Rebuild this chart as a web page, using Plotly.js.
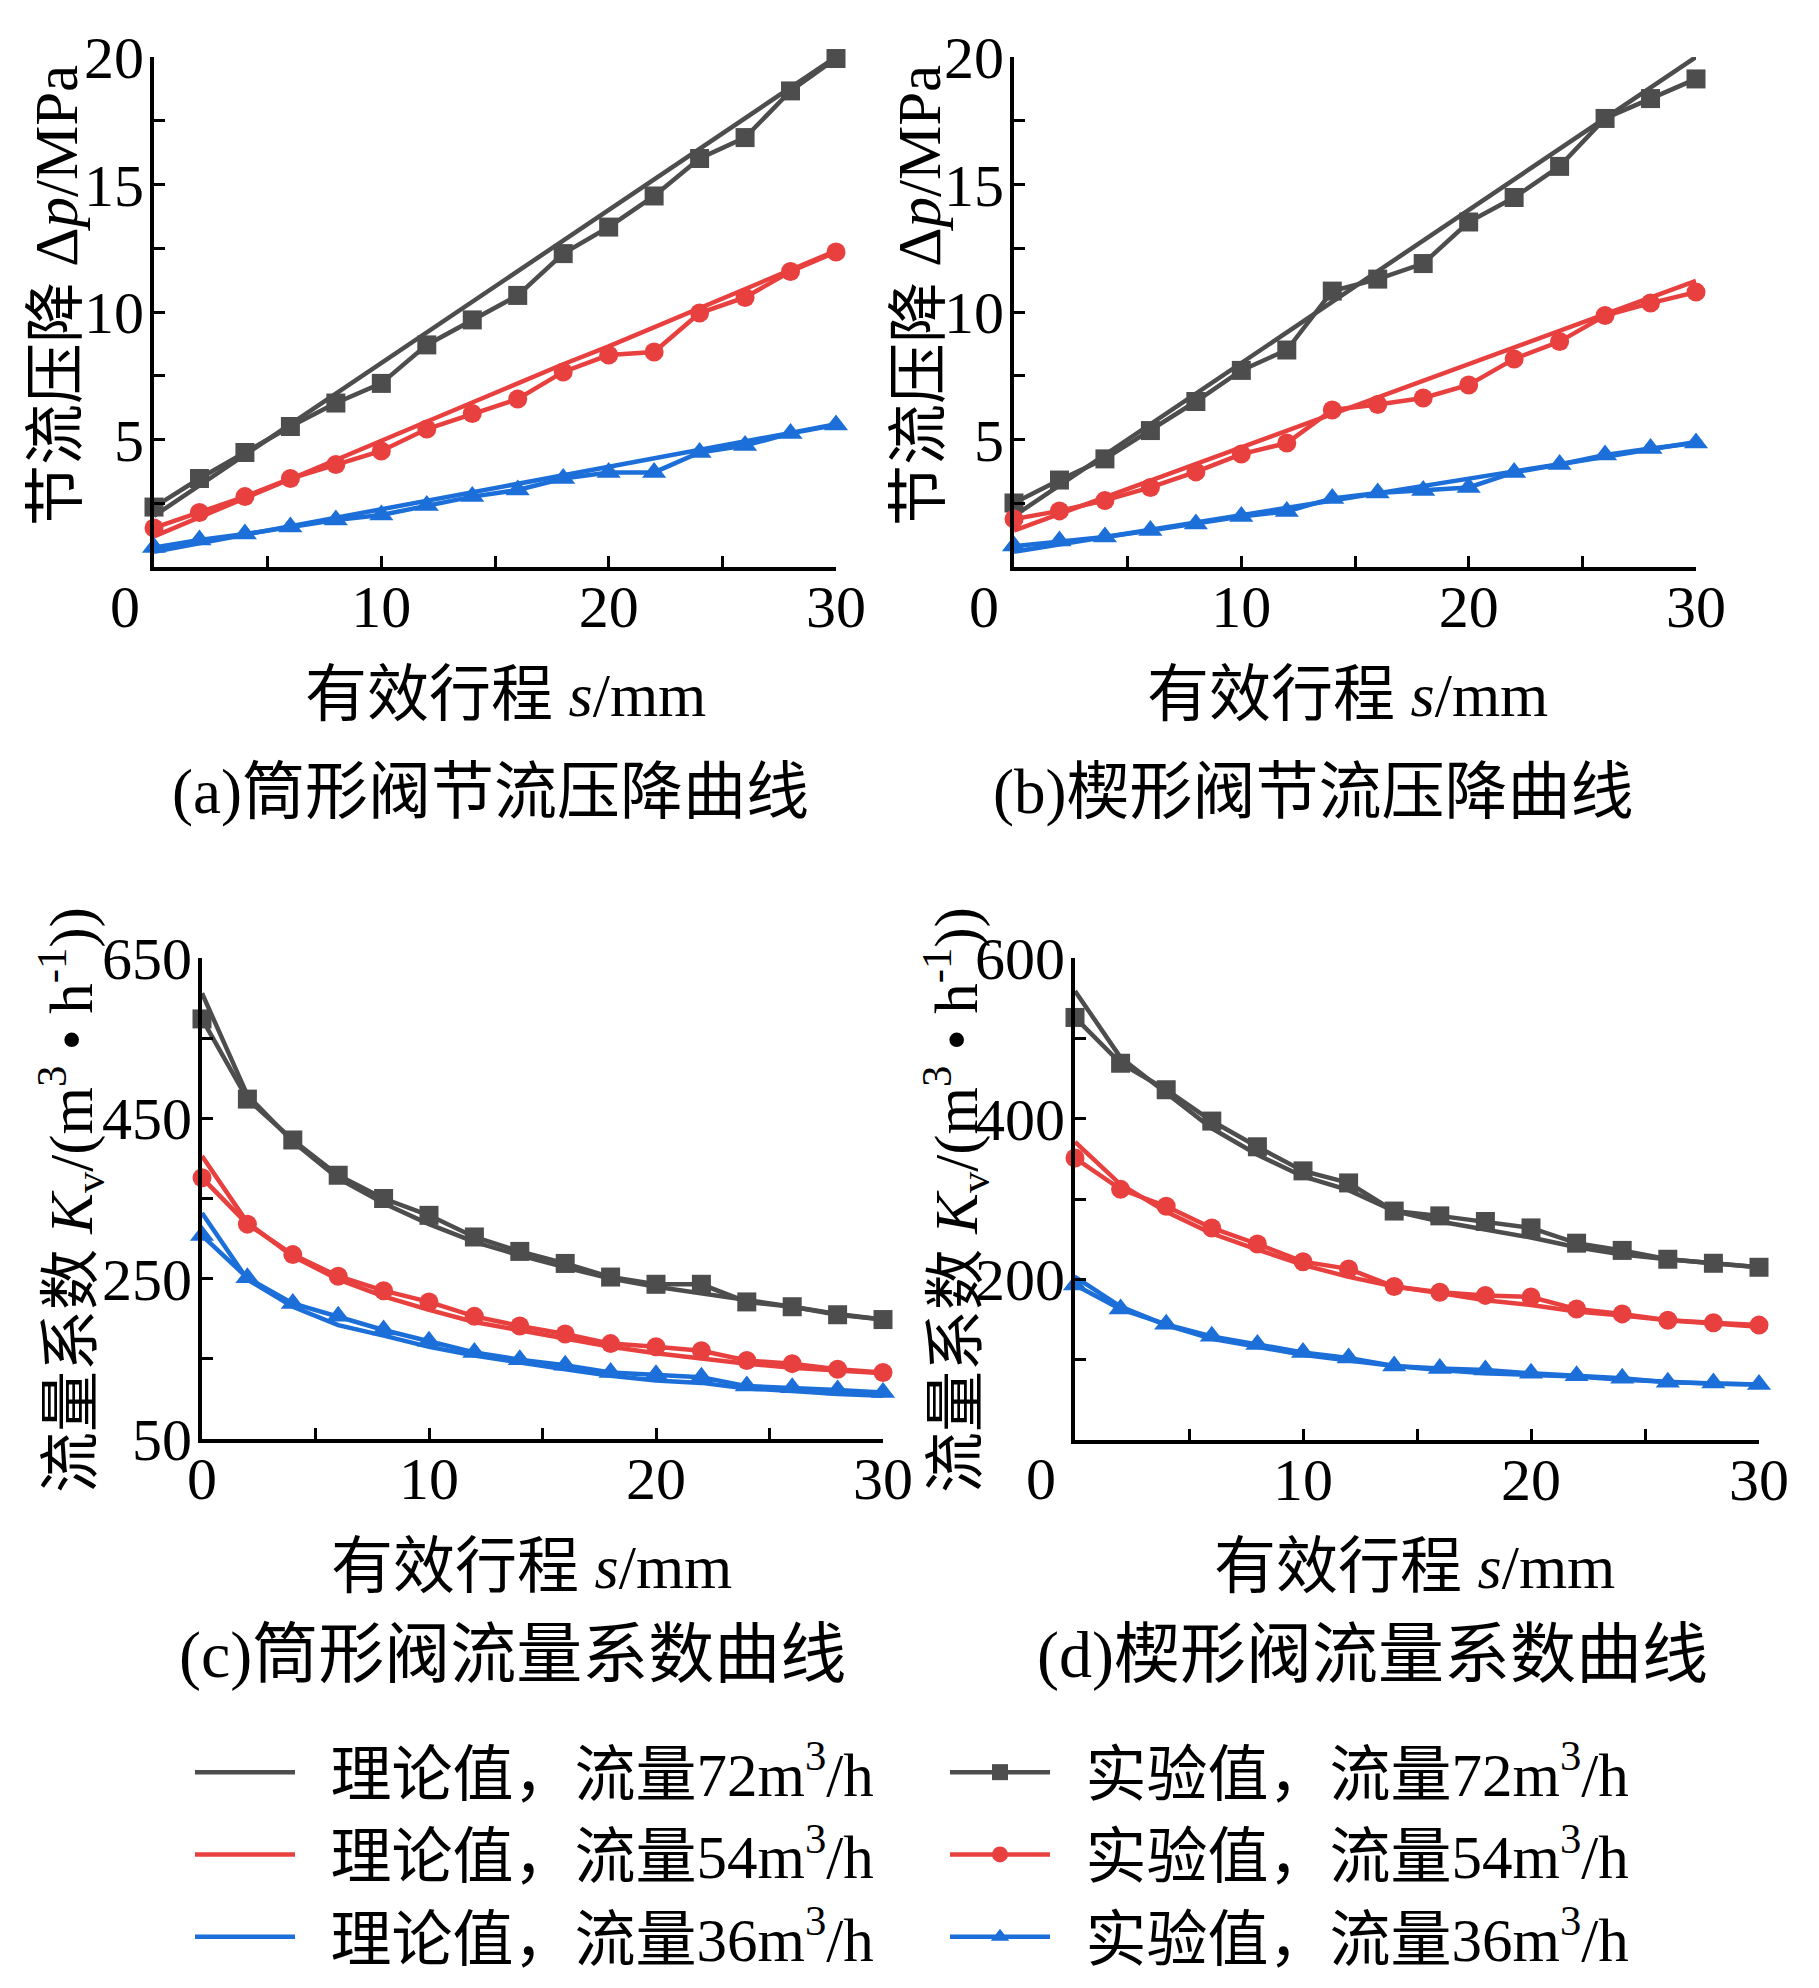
<!DOCTYPE html>
<html>
<head>
<meta charset="utf-8">
<script src="https://cdn.plot.ly/plotly-3.0.1.min.js"></script>
<style>
  html, body { margin: 0; padding: 0; background: #fff; }
  #chart { width: 1819px; height: 1988px; }
</style>
</head>
<body>
<div id="chart"></div>
<script>
// stroke positions (mm)
var stroke = [0, 2, 4, 6, 8, 10, 12, 14, 16, 18, 20, 22, 24, 26, 28, 30];

// (a) cylinder valve pressure drop, MPa
var a_th72 = [2.0, 3.2, 4.4, 5.6, 6.8, 8.0, 9.2, 10.4, 11.6, 12.8, 14.0, 15.2, 16.4, 17.6, 18.8, 20.0];
var a_ex72 = [2.35, 3.47, 4.49, 5.51, 6.43, 7.2, 8.71, 9.69, 10.65, 12.29, 13.33, 14.55, 16.02, 16.84, 18.67, 19.94];
var a_th54 = [1.2, 1.95, 2.7, 3.45, 4.2, 4.95, 5.7, 6.45, 7.2, 7.95, 8.65, 9.4, 10.15, 10.9, 11.65, 12.4];
var a_ex54 = [1.53, 2.14, 2.76, 3.47, 4.02, 4.55, 5.41, 6.02, 6.59, 7.65, 8.31, 8.43, 9.96, 10.57, 11.59, 12.35];
var a_th36 = [0.6, 0.93, 1.26, 1.6, 1.93, 2.26, 2.6, 2.93, 3.26, 3.6, 3.93, 4.26, 4.6, 4.93, 5.26, 5.6];
var a_ex36 = [0.76, 1.06, 1.29, 1.57, 1.84, 2.04, 2.41, 2.76, 3.02, 3.47, 3.71, 3.71, 4.49, 4.76, 5.24, 5.57];

// (b) wedge valve pressure drop, MPa
var b_th72 = [2.0, 3.2, 4.4, 5.6, 6.8, 8.0, 9.2, 10.4, 11.6, 12.8, 14.0, 15.2, 16.4, 17.6, 18.8, 20.0];
var b_ex72 = [2.51, 3.41, 4.24, 5.35, 6.49, 7.71, 8.51, 10.82, 11.29, 11.9, 13.53, 14.49, 15.71, 17.59, 18.37, 19.14];
var b_th54 = [1.43, 2.08, 2.73, 3.39, 4.04, 4.69, 5.34, 5.99, 6.65, 7.3, 7.95, 8.6, 9.26, 9.91, 10.56, 11.22];
var b_ex54 = [1.88, 2.2, 2.61, 3.12, 3.73, 4.43, 4.86, 6.16, 6.37, 6.63, 7.14, 8.16, 8.84, 9.86, 10.35, 10.78];
var b_th36 = [0.6, 0.89, 1.17, 1.46, 1.74, 2.03, 2.32, 2.6, 2.89, 3.17, 3.46, 3.75, 4.03, 4.32, 4.6, 4.9];
var b_ex36 = [0.82, 1.02, 1.18, 1.43, 1.69, 1.98, 2.18, 2.69, 2.9, 3.0, 3.12, 3.71, 4.02, 4.39, 4.65, 4.86];

// (c) cylinder valve flow coefficient
var c_th72 = [606, 479, 421, 375, 344, 318, 296, 279, 264, 250, 240, 232, 224, 215, 206, 199];
var c_ex72 = [574, 474, 423, 379, 350, 329, 302, 284, 269, 252, 243, 243, 221, 215, 205, 199];
var c_th54 = [403, 320, 278, 249, 228, 211, 196, 186, 175, 165, 157, 150, 144, 139, 135, 132];
var c_ex54 = [376, 318, 280, 253, 235, 221, 203, 191, 181, 169, 165, 160, 148, 144, 137, 133];
var c_th36 = [332, 249, 215, 192, 179, 165, 154, 145, 137, 129, 123, 120, 113, 110, 106, 104];
var c_ex36 = [304, 251, 219, 203, 186, 172, 158, 149, 142, 133, 130, 127, 116, 114, 111, 108];

// (d) wedge valve flow coefficient
var d_th72 = [559, 476, 432, 388, 355, 328, 311, 285, 272, 262, 252, 240, 231, 225, 220, 215];
var d_ex72 = [526, 469, 436, 397, 365, 335, 320, 285, 279, 272, 264, 245, 236, 225, 220, 215];
var d_th54 = [371, 318, 284, 257, 237, 218, 203, 191, 183, 174, 168, 160, 155, 149, 145, 141];
var d_ex54 = [351, 312, 291, 264, 244, 222, 213, 191, 184, 180, 178, 163, 157, 149, 146, 143];
var d_th36 = [203, 166, 143, 126, 116, 106, 99, 92, 87, 83, 81, 79, 75, 72, 70, 69];
var d_ex36 = [193, 163, 144, 129, 119, 109, 102, 92, 89, 87, 83, 80, 77, 72, 71, 69];

var thNames = ['\u2002理论值，流量72m<sup>3</sup>/h', '\u2002理论值，流量54m<sup>3</sup>/h', '\u2002理论值，流量36m<sup>3</sup>/h'];
var exNames = ['\u2002实验值，流量72m<sup>3</sup>/h', '\u2002实验值，流量54m<sup>3</sup>/h', '\u2002实验值，流量36m<sup>3</sup>/h'];
var colors = ['#4d4d4d', '#e8403f', '#1c6fd8'];
var symbols = ['square', 'circle', 'triangle-up'];
var symSizes = [19, 19, 21];

var FONT = 'Liberation Serif, Times New Roman, Noto Sans CJK SC, serif';

var traces = [];
function addPanel(xa, ya, th, ex, legend) {
    for (var i = 0; i < 3; i++) {
        traces.push({
            x: stroke, y: th[i], xaxis: xa, yaxis: ya,
            type: 'scatter', mode: 'lines', name: thNames[i],
            line: {color: colors[i], width: 4.5},
            showlegend: legend, legendrank: i * 2 + 1, cliponaxis: false
        });
        traces.push({
            x: stroke, y: ex[i], xaxis: xa, yaxis: ya,
            type: 'scatter', mode: 'lines+markers', name: exNames[i],
            line: {color: colors[i], width: 4.5},
            marker: {symbol: symbols[i], size: symSizes[i], color: colors[i]},
            showlegend: legend, legendrank: i * 2 + 2, cliponaxis: false
        });
    }
}
addPanel('x', 'y', [a_th72, a_th54, a_th36], [a_ex72, a_ex54, a_ex36], true);
addPanel('x2', 'y2', [b_th72, b_th54, b_th36], [b_ex72, b_ex54, b_ex36], false);
addPanel('x3', 'y3', [c_th72, c_th54, c_th36], [c_ex72, c_ex54, c_ex36], false);
addPanel('x4', 'y4', [d_th72, d_th54, d_th36], [d_ex72, d_ex54, d_ex36], false);

var W = 1819, H = 1988;
function px(v) { return v / W; }
function py(v) { return 1 - v / H; }

function xAxis(dom, anchor, showZero) {
    return {
        domain: [px(dom[0]), px(dom[1])], anchor: anchor, range: [0, 30],
        tickvals: [0, 5, 10, 15, 20, 25, 30],
        ticktext: [showZero ? '0' : '', '', '10', '', '20', '', '30'],
        ticks: 'inside', ticklen: 11, tickwidth: 3, tickcolor: '#000',
        ticklabelstandoff: -16,
        showline: true, linewidth: 4, linecolor: '#000',
        showgrid: false, zeroline: false,
        tickfont: {family: FONT, size: 60, color: '#000'}
    };
}
function yAxis(dom, anchor, range, vals, text) {
    return {
        domain: [py(dom[1]), py(dom[0])], anchor: anchor, range: range,
        tickvals: vals, ticktext: text,
        ticks: 'inside', ticklen: 11, tickwidth: 3, tickcolor: '#000',
        ticklabelstandoff: -6,
        showline: true, linewidth: 4, linecolor: '#000',
        showgrid: false, zeroline: false,
        tickfont: {family: FONT, size: 60, color: '#000'}
    };
}

var dpVals = [2.5, 5, 7.5, 10, 12.5, 15, 17.5, 20];
var dpText = ['', '5', '', '10', '', '15', '', '20'];

function ann(text, x, y, size, angle) {
    return {
        text: text, xref: 'paper', yref: 'paper', x: px(x), y: py(y),
        xanchor: 'center', yanchor: 'middle', showarrow: false,
        textangle: angle || 0,
        font: {family: FONT, size: size, color: '#000'}
    };
}

var xTitle = '有效行程 <i>s</i>/mm';
var dpTitle = '节流压降 Δ<i>p</i>/MPa';
var kvTitle = '流量系数 <i>K</i><sub>v</sub>/(m<sup>3</sup> • h<sup>-1</sup>))';

var layout = {
    width: W, height: H,
    margin: {l: 0, r: 0, t: 0, b: 0},
    paper_bgcolor: '#fff', plot_bgcolor: '#fff',
    font: {family: FONT, color: '#000'},
    xaxis: xAxis([154, 836], 'y', false),
    yaxis: yAxis([57, 567], 'x', [0, 20], dpVals, dpText),
    xaxis2: xAxis([1014, 1696], 'y2', false),
    yaxis2: yAxis([57, 567], 'x2', [0, 20], dpVals, dpText),
    xaxis3: xAxis([202, 883], 'y3', true),
    yaxis3: yAxis([958, 1439], 'x3', [50, 650], [50, 150, 250, 350, 450, 550, 650], ['50', '', '250', '', '450', '', '650']),
    xaxis4: xAxis([1075, 1759], 'y4', false),
    yaxis4: yAxis([958, 1440], 'x4', [0, 600], [100, 200, 300, 400, 500, 600], ['', '200', '', '400', '', '600']),
    annotations: [
        ann('0', 125, 607, 60),
        ann('0', 984, 607, 60),
        ann('0', 1041, 1479, 60),
        ann(xTitle, 505, 695, 62),
        ann(xTitle, 1347, 695, 62),
        ann(xTitle, 531, 1567, 62),
        ann(xTitle, 1414, 1567, 62),
        ann(dpTitle, 57, 296, 61, -90),
        ann(dpTitle, 920, 296, 61, -90),
        ann(kvTitle, 70, 1200, 61, -90),
        ann(kvTitle, 955, 1200, 61, -90),
        ann('(a)筒形阀节流压降曲线', 490, 792, 63),
        ann('(b)楔形阀节流压降曲线', 1313, 792, 63),
        ann('(c)筒形阀流量系数曲线', 512, 1655, 66),
        ann('(d)楔形阀流量系数曲线', 1372, 1655, 66)
    ],
    showlegend: true,
    legend: {
        orientation: 'h', x: px(190), y: py(1726), xanchor: 'left', yanchor: 'top',
        entrywidth: 640, entrywidthmode: 'pixels', itemwidth: 100,
        traceorder: 'normal', bgcolor: 'rgba(0,0,0,0)',
        font: {family: FONT, size: 61, color: '#000'}
    }
};

Plotly.newPlot('chart', traces, layout, {staticPlot: true});
</script>
</body>
</html>
